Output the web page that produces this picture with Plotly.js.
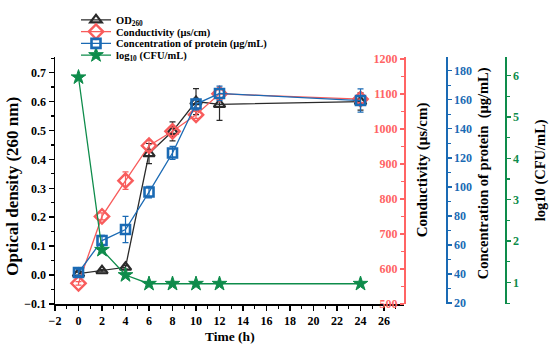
<!DOCTYPE html>
<html>
<head>
<meta charset="utf-8">
<script src="https://cdn.plot.ly/plotly-3.0.1.min.js"></script>
<style>html,body{margin:0;padding:0;background:#fff}#chart{width:550px;height:346px}</style>
</head>
<body>
<div id="chart"></div>
<script>
// ---- data ----
const time = [0, 2, 4, 6, 8, 10, 12, 24];
const od260 = [0.005, 0.015, 0.027, 0.42, 0.497, 0.60, 0.59, 0.60];
const od260Err = [0.005, 0.004, 0.006, 0.035, 0.033, 0.045, 0.055, 0.03];
const conductivity = [559, 750, 852, 952, 993, 1040, 1100, 1085];
const conductivityErr = [5, 10, 25, 15, 12, 10, 12, 10];
const protein = [41, 63, 70.6, 96.4, 123.3, 157, 164.3, 159.4];
const proteinErr = [2, 3.5, 9, 4, 4.5, 4, 5, 8];
const logCFU = [5.96, 1.79, 1.18, 0.97, 0.97, 0.97, 0.97, 0.97];

const xTicks = [-2, 0, 2, 4, 6, 8, 10, 12, 14, 16, 18, 20, 22, 24, 26];

const names = ['OD<sub>260</sub>', 'Conductivity (μs/cm)', 'Concentration of protein (μg/mL)', 'log<sub>10</sub> (CFU/mL)'];
const titles = {
  x: 'Time (h)',
  y: 'Optical density (260 nm)',
  y2: 'Conductivity (μs/cm)',
  y3: 'Concentration of protein  (μg/mL)',
  y4: 'log10 (CFU/mL)'
};

// ---- styles ----
const FONT = 'Liberation Serif, Times New Roman, serif';
const cBlack = '#2a2a2a', cRed = '#F85C5C', cRedAx = '#FF6464', cBlue = '#1A6AB4', cGreen = '#0E8C4B';

function errBar(arr, color) {
  return {type: 'data', array: arr, visible: true, color: color, thickness: 1.2, width: 3};
}

const traces = [
  {x: time, y: logCFU, yaxis: 'y4', name: names[3], legend: 'legend4', mode: 'lines+markers',
   line: {color: cGreen, width: 1.3},
   marker: {symbol: 'star', size: 11, color: cGreen, line: {color: cGreen, width: 1}}},
  {x: time, y: od260, yaxis: 'y', name: names[0], legend: 'legend', mode: 'lines+markers',
   error_y: errBar(od260Err, cBlack),
   line: {color: cBlack, width: 1.3},
   marker: {symbol: 'triangle-up-open', size: 10, color: cBlack, line: {color: cBlack, width: 2.2}}},
  {x: time, y: conductivity, yaxis: 'y2', name: names[1], legend: 'legend2', mode: 'lines+markers',
   error_y: errBar(conductivityErr, cRed),
   line: {color: cRed, width: 1.3},
   marker: {symbol: 'diamond-open', size: 11, color: cRed, line: {color: cRed, width: 2.4}}},
  {x: time, y: protein, yaxis: 'y3', name: names[2], legend: 'legend3', mode: 'lines+markers',
   error_y: errBar(proteinErr, cBlue),
   line: {color: cBlue, width: 1.3},
   marker: {symbol: 'square-open', size: 9, color: cBlue, line: {color: cBlue, width: 2.6}}}
];

const tickFont = (c) => ({family: FONT, size: 12, color: c, weight: 'bold'});
const L = 55, R = 5, T = 51, B = 42, W = 550, H = 346;
const pw = W - L - R, ph = H - T - B;
const px = (v) => (v - L) / pw;
const py = (v) => (H - B - v) / ph;

function legendAt(rowY) {
  return {x: px(76), y: py(rowY), xanchor: 'left', yanchor: 'middle', bgcolor: 'rgba(0,0,0,0)',
          borderwidth: 0, itemwidth: 30, tracegroupgap: 0,
          font: {family: FONT, size: 10.5, color: '#000', weight: 'bold'}};
}

const layout = {
  width: W, height: H,
  margin: {l: L, r: R, t: T, b: B},
  paper_bgcolor: '#fff', plot_bgcolor: 'rgba(0,0,0,0)',
  font: {family: FONT, weight: 'bold'},
  showlegend: true,
  legend: legendAt(13),
  legend2: legendAt(25),
  legend3: legendAt(37),
  legend4: legendAt(49),
  xaxis: {
    domain: [0, px(404)], range: [-2, 27.7], tickvals: xTicks, showgrid: false, zeroline: false,
    showline: true, linecolor: '#000', linewidth: 1.5, ticks: 'outside', ticklen: 5, tickwidth: 1.5, tickcolor: '#000',
    minor: {dtick: 1, ticks: 'outside', ticklen: 3, tickwidth: 1.2, tickcolor: '#000'},
    tickfont: tickFont('#000'), anchor: 'y'
  },
  yaxis: {
    range: [-0.1, 0.754], dtick: 0.1, tickformat: '.1f', showgrid: false, zeroline: false,
    showline: true, linecolor: '#000', linewidth: 1.5, ticks: 'outside', ticklen: 5, tickwidth: 1.5, tickcolor: '#000',
    minor: {dtick: 0.05, ticks: 'outside', ticklen: 3, tickwidth: 1.2, tickcolor: '#000'},
    tickfont: tickFont('#000')
  },
  yaxis2: {
    overlaying: 'y', side: 'left', anchor: 'free', position: px(404), range: [500, 1205], dtick: 100,
    showgrid: false, zeroline: false,
    showline: true, linecolor: cRedAx, linewidth: 1.5, ticks: 'outside', ticklen: 4, tickwidth: 1.5, tickcolor: cRedAx,
    minor: {dtick: 50, ticks: 'outside', ticklen: 3, tickwidth: 1.2, tickcolor: cRedAx},
    tickfont: tickFont(cRedAx)
  },
  yaxis3: {
    overlaying: 'y', side: 'right', anchor: 'free', position: px(446), range: [19.3, 189.4], dtick: 20,
    showgrid: false, zeroline: false,
    showline: true, linecolor: cBlue, linewidth: 1.5, ticks: 'outside', ticklen: 4, tickwidth: 1.5, tickcolor: cBlue,
    minor: {dtick: 10, ticks: 'outside', ticklen: 3, tickwidth: 1.2, tickcolor: cBlue},
    tickfont: tickFont(cBlue)
  },
  yaxis4: {
    overlaying: 'y', side: 'right', anchor: 'free', position: px(505), range: [0.48, 6.45], dtick: 1,
    showgrid: false, zeroline: false,
    showline: true, linecolor: cGreen, linewidth: 1.5, ticks: 'outside', ticklen: 4, tickwidth: 1.5, tickcolor: cGreen,
    minor: {dtick: 0.5, ticks: 'outside', ticklen: 3, tickwidth: 1.2, tickcolor: cGreen},
    tickfont: tickFont(cGreen)
  },
  annotations: [
    {text: titles.x, xref: 'paper', yref: 'paper', x: px(230), y: py(337), showarrow: false,
     xanchor: 'center', yanchor: 'middle', font: {family: FONT, size: 13.5, color: '#000', weight: 'bold'}},
    {text: titles.y, xref: 'paper', yref: 'paper', x: px(13), y: py(184), showarrow: false, textangle: -90,
     xanchor: 'center', yanchor: 'middle', font: {family: FONT, size: 17, color: '#000', weight: 'bold'}},
    {text: titles.y2, xref: 'paper', yref: 'paper', x: px(422), y: py(167), showarrow: false, textangle: -90,
     xanchor: 'center', yanchor: 'middle', font: {family: FONT, size: 15, color: '#000', weight: 'bold'}},
    {text: titles.y3, xref: 'paper', yref: 'paper', x: px(483), y: py(170), showarrow: false, textangle: -90,
     xanchor: 'center', yanchor: 'middle', font: {family: FONT, size: 14.5, color: '#000', weight: 'bold'}},
    {text: titles.y4, xref: 'paper', yref: 'paper', x: px(540), y: py(167), showarrow: false, textangle: -90,
     xanchor: 'center', yanchor: 'middle', font: {family: FONT, size: 14.5, color: '#000', weight: 'bold'}}
  ]
};

Plotly.newPlot('chart', traces, layout, {displayModeBar: false, staticPlot: true});
</script>
</body>
</html>
